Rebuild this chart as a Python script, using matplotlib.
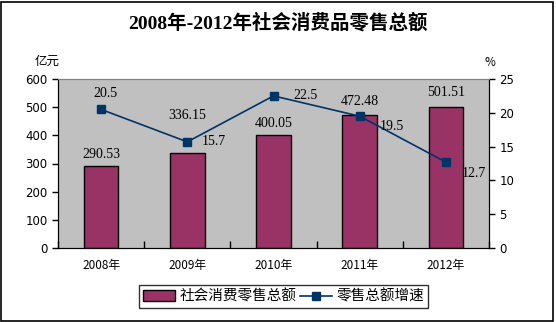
import matplotlib
matplotlib.use("Agg")
import matplotlib.pyplot as plt
from matplotlib.patches import Rectangle

years = ["2008年", "2009年", "2010年", "2011年", "2012年"]
retail = [290.53, 336.15, 400.05, 472.48, 501.51]
growth = [20.5, 15.7, 22.5, 19.5, 12.7]

# label offsets in pixels (dx, dy), screen up is positive
bar_lab_off = [12, 38, 12, 13, 14]
line_lab_off = [(4, 16), (26, 0), (32, 0), (32, -10), (28, -11)]

cjk = ["Noto Sans CJK SC", "DejaVu Sans"]
serif = ["Liberation Serif", "Noto Sans CJK SC"]
bar_color = "#993366"
line_color = "#003366"

fig = plt.figure(figsize=(5.56, 3.22), dpi=100)
ax = fig.add_axes([58/556, 74/322, 431/556, 169/322])
ax2 = ax.twinx()

x = range(len(years))
ax.set_facecolor("#C0C0C0")
ax.bar(x, retail, width=0.4, color=bar_color, edgecolor="black", linewidth=1,
       zorder=2, label="社会消费零售总额")
ax.set_ylim(0, 600)
ax.set_xlim(-0.5, 4.5)
ax.set_yticks(range(0, 601, 100))
ax.set_xticks(list(x))
ax.set_xticklabels(years, family=cjk, fontsize=8.5)
ax.set_xticks([i + 0.5 for i in range(-1, 5)], minor=True)
ax.tick_params(axis="x", which="major", length=0, pad=8)
ax.tick_params(axis="x", which="minor", direction="in", length=5, width=1)
ax.tick_params(axis="y", direction="out", length=4, width=1, labelsize=8.5)

ax2.plot(x, growth, color=line_color, lw=1.2, marker="s", markersize=5.5,
         zorder=3, label="零售总额增速")
ax2.set_ylim(0, 25)
ax2.set_yticks(range(0, 26, 5))
ax2.tick_params(axis="y", direction="out", length=4, width=1, labelsize=8.5)

for a in (ax, ax2):
    a.spines["top"].set_color("#808080")
    a.spines["left"].set_color("black")
    a.spines["right"].set_color("black")
    a.spines["bottom"].set_color("black")

for i, v in enumerate(retail):
    ax.annotate(f"{v:.2f}", (i, v), xytext=(0, bar_lab_off[i] * 0.72),
                textcoords="offset points", ha="center", va="center",
                family=serif, fontsize=10, color="black")

for i, v in enumerate(growth):
    dx, dy = line_lab_off[i]
    ax2.annotate(f"{v}", (i, v), xytext=(dx * 0.72, dy * 0.72),
                 textcoords="offset points", ha="center", va="center",
                 family=serif, fontsize=10, color="black", zorder=5)

fig.text(0.5, 1 - 23/322, "2008年-2012年社会消费品零售总额", ha="center", va="center",
         family=serif, fontsize=14, fontweight="bold")
fig.text(47/556, 1 - 61/322, "亿元", ha="center", va="center", family=cjk, fontsize=9)
fig.text(490/556, 1 - 62/322, "%", ha="center", va="center", family=cjk, fontsize=8.5)

h1, l1 = ax.get_legend_handles_labels()
h2, l2 = ax2.get_legend_handles_labels()
leg = fig.legend(h1 + h2, l1 + l2, loc="center", bbox_to_anchor=(283.5/556, 1 - 296.5/322),
                 ncol=2, frameon=True, fancybox=False, edgecolor="black",
                 prop={"family": cjk, "size": 10.5}, handlelength=2.2, handletextpad=0.3,
                 columnspacing=0.2, borderpad=0.3)
leg.get_frame().set_linewidth(1)

fig.patches.append(Rectangle((0.5/556, 1.5/322), 552/556, 319/322, transform=fig.transFigure,
                             fill=False, edgecolor="black", linewidth=1.2))

fig.savefig("out.png", dpi=100)
